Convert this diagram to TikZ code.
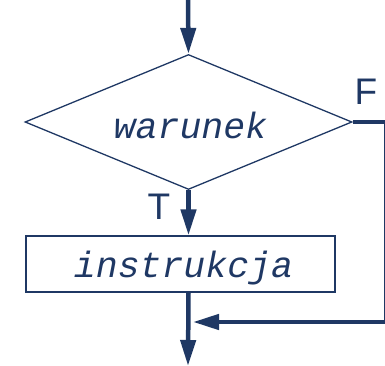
\documentclass[tikz,border=0pt]{standalone}
\usepackage{fontspec}
\setmainfont{Liberation Sans}
\setmonofont{Liberation Mono}
\usetikzlibrary{shapes.geometric,arrows.meta}
\definecolor{navy}{HTML}{1F3864}
\tikzset{
  thinline/.style={draw=navy,line width=1.3pt},
  flow/.style={draw=navy,line width=4.5pt,-{Triangle[width=15pt,length=26pt]}},
  codetext/.style={text=navy,font=\fontsize{36.5}{40}\selectfont\ttfamily\itshape,inner sep=0pt},
  branch/.style={text=navy,font=\fontsize{37}{40}\selectfont,inner sep=0pt}
}
\begin{document}
\begin{tikzpicture}[x=1pt,y=-1pt]
\useasboundingbox (0,0) rectangle (385,366);
% decision and statement blocks
\node[thinline,shape=diamond,inner sep=0pt,minimum width=327pt,minimum height=135pt] (dia) at (188.5,122) {};
\node[codetext,anchor=base] (cond) at (190.5,139) {warunek};
\node[thinline,rectangle,inner sep=0pt,minimum width=309pt,minimum height=56pt] (box) at (180.5,264) {};
\node[codetext,anchor=base] (stmt) at (183.5,277) {instrukcja};
% branch labels
\node[branch] (lf) at (366,92) {F};
\node[branch] (lt) at (159,207) {T};
% helper points for the flow lines
\coordinate (in) at (188,0);
\coordinate (out) at (188,366);
\coordinate (rt) at (386.5,122);
\coordinate (rb) at (386.5,322);
\coordinate (join) at (193,322);
% flow lines
\draw[flow] (in) -- (dia.north);
\draw[flow] (dia.south) -- (dia.south |- box.north);
\draw[flow] (dia.south |- box.south) -- (out);
\draw[flow] (dia.east) -- (rt) -- (rb) -- (join);
\end{tikzpicture}
\end{document}
